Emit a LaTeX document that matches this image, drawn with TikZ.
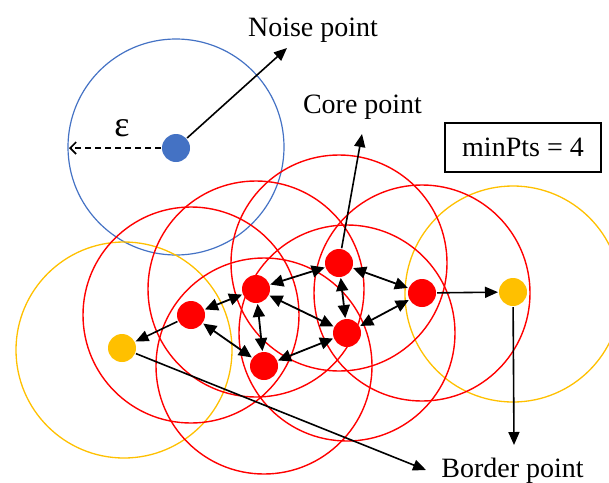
\documentclass[tikz,border=0pt]{standalone}
\usepackage{fontspec}
\setmainfont{Liberation Serif}
\usetikzlibrary{arrows.meta}
\definecolor{cred}{HTML}{FF0000}
\definecolor{cyel}{HTML}{FFC000}
\definecolor{cblue}{HTML}{4472C4}
\begin{document}
\begin{tikzpicture}[x=1pt,y=-1pt,
  dot/.style={circle,inner sep=0pt,minimum size=28pt,outer sep=1pt},
  coredot/.style={dot,fill=cred},
  borderdot/.style={dot,fill=cyel},
  noisedot/.style={dot,fill=cblue},
  ring/.style={line width=1.4pt},
  lbl/.style={font=\fontsize{28}{30}\selectfont,inner sep=0pt,anchor=base},
  link/.style={line width=1.8pt,{Triangle[length=13pt,width=12pt]}-{Triangle[length=13pt,width=12pt]}},
  ptr/.style={line width=1.6pt,-{Triangle[length=13pt,width=11pt]}}
]
\useasboundingbox (0,0) rectangle (609,482);
% neighbourhood circles
\draw[ring,cblue,line width=1.2pt] (176,147) circle[radius=108];
\draw[ring,cyel,line width=1.3pt] (124,350) circle[radius=108];
\draw[ring,cyel,line width=1.3pt] (513,294) circle[radius=108];
\foreach \p in {(191,315),(256,289),(339,263),(347,333),(264,366),(422,293)}
  \draw[ring,cred] \p circle[radius=108];
% points
\node[noisedot] (N) at (176,148) {};
\node[coredot] (A) at (191,315) {};
\node[coredot] (B) at (256,289) {};
\node[coredot] (C) at (339,263) {};
\node[coredot] (D) at (347,333) {};
\node[coredot] (E) at (264,366) {};
\node[coredot] (F) at (422,293) {};
\node[borderdot] (YL) at (122,348) {};
\node[borderdot] (YR) at (513,292) {};
% labels
\node[lbl] (noise) at (313,36) {Noise point};
\node[lbl] (core) at (362.5,113) {Core point};
\node[lbl] (border) at (512.5,477) {Border point};
\node[lbl,font=\fontsize{36}{38}\selectfont] (eps) at (122,136) {ε};
\node[draw,line width=1.4pt,minimum width=156pt,minimum height=49pt,inner sep=0pt,
      font=\fontsize{28}{30}\selectfont] (minpts) at (523,147.5) {minPts = 4};
\coordinate (noiseTip) at (287,48);
\coordinate (coreTip) at (362,134);
\coordinate (borderTip) at (426,470);
\coordinate (downTip) at (514,445);
\coordinate (epsTip) at (69,148);
% links between core points
\draw[link] (A) -- (B);
\draw[link] (B) -- (C);
\draw[link] (C) -- (F);
\draw[link] (C) -- (D);
\draw[link] (B) -- (D);
\draw[link] (B) -- (E);
\draw[link] (A) -- (E);
\draw[link] (E) -- (D);
\draw[link] (D) -- (F);
% pointers
\draw[ptr] (A) -- (YL);
\draw[ptr] (F) -- (YR);
\draw[ptr] (C) -- (coreTip);
\draw[ptr] (N) -- (noiseTip);
\draw[ptr] (YL) -- (borderTip);
\draw[ptr] (YR) -- (downTip);
\draw[line width=1.6pt,dash pattern=on 6pt off 4pt,-{Straight Barb[length=6pt,width=12pt,line width=1.6pt]}] (N) -- (epsTip);
\end{tikzpicture}
\end{document}
